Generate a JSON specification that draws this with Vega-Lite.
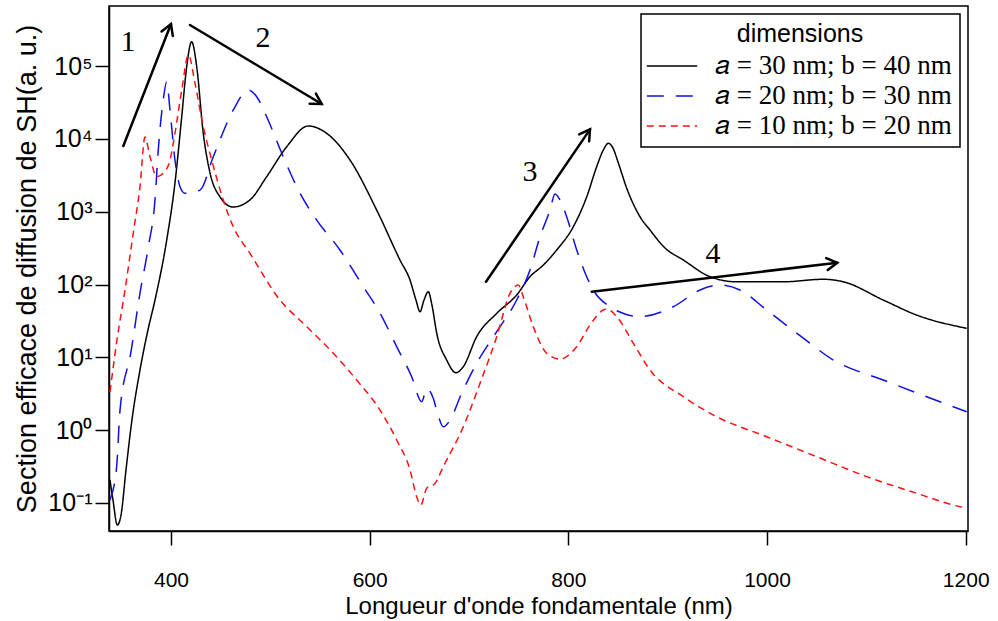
{
  "$schema": "https://vega.github.io/schema/vega-lite/v6.json",
  "width": 859,
  "height": 525,
  "autosize": {"type": "none"},
  "padding": {"left": 109, "top": 6, "right": 30, "bottom": 90},
  "background": "white",
  "datasets": {
    "curves": [
      {"s": "𝑎 = 30 nm; b = 40 nm", "wl": 338.6, "v": 0.207},
      {"s": "𝑎 = 30 nm; b = 40 nm", "wl": 341.6, "v": 0.110},
      {"s": "𝑎 = 30 nm; b = 40 nm", "wl": 346.0, "v": 0.0498},
      {"s": "𝑎 = 30 nm; b = 40 nm", "wl": 349.7, "v": 0.0684},
      {"s": "𝑎 = 30 nm; b = 40 nm", "wl": 354.7, "v": 0.284},
      {"s": "𝑎 = 30 nm; b = 40 nm", "wl": 360.7, "v": 1.38},
      {"s": "𝑎 = 30 nm; b = 40 nm", "wl": 368.8, "v": 6.70},
      {"s": "𝑎 = 30 nm; b = 40 nm", "wl": 376.8, "v": 23.7},
      {"s": "𝑎 = 30 nm; b = 40 nm", "wl": 383.9, "v": 61.2},
      {"s": "𝑎 = 30 nm; b = 40 nm", "wl": 395.7, "v": 408},
      {"s": "𝑎 = 30 nm; b = 40 nm", "wl": 404.0, "v": 2470},
      {"s": "𝑎 = 30 nm; b = 40 nm", "wl": 410.8, "v": 20100},
      {"s": "𝑎 = 30 nm; b = 40 nm", "wl": 415.8, "v": 97800},
      {"s": "𝑎 = 30 nm; b = 40 nm", "wl": 420.8, "v": 216000},
      {"s": "𝑎 = 30 nm; b = 40 nm", "wl": 425.9, "v": 97800},
      {"s": "𝑎 = 30 nm; b = 40 nm", "wl": 432.5, "v": 11900},
      {"s": "𝑎 = 30 nm; b = 40 nm", "wl": 439.3, "v": 3400},
      {"s": "𝑎 = 30 nm; b = 40 nm", "wl": 449.3, "v": 1600},
      {"s": "𝑎 = 30 nm; b = 40 nm", "wl": 462.4, "v": 1160},
      {"s": "𝑎 = 30 nm; b = 40 nm", "wl": 479.5, "v": 1450},
      {"s": "𝑎 = 30 nm; b = 40 nm", "wl": 496.3, "v": 3020},
      {"s": "𝑎 = 30 nm; b = 40 nm", "wl": 516.5, "v": 7800},
      {"s": "𝑎 = 30 nm; b = 40 nm", "wl": 538.2, "v": 15000},
      {"s": "𝑎 = 30 nm; b = 40 nm", "wl": 556.7, "v": 11900},
      {"s": "𝑎 = 30 nm; b = 40 nm", "wl": 580.2, "v": 5120},
      {"s": "𝑎 = 30 nm; b = 40 nm", "wl": 607.1, "v": 1050},
      {"s": "𝑎 = 30 nm; b = 40 nm", "wl": 630.5, "v": 217},
      {"s": "𝑎 = 30 nm; b = 40 nm", "wl": 640.6, "v": 115},
      {"s": "𝑎 = 30 nm; b = 40 nm", "wl": 646.6, "v": 61.2},
      {"s": "𝑎 = 30 nm; b = 40 nm", "wl": 650.7, "v": 42.3},
      {"s": "𝑎 = 30 nm; b = 40 nm", "wl": 654.7, "v": 61.2},
      {"s": "𝑎 = 30 nm; b = 40 nm", "wl": 659.0, "v": 79.6},
      {"s": "𝑎 = 30 nm; b = 40 nm", "wl": 662.7, "v": 52.2},
      {"s": "𝑎 = 30 nm; b = 40 nm", "wl": 667.5, "v": 21.4},
      {"s": "𝑎 = 30 nm; b = 40 nm", "wl": 677.5, "v": 9.18},
      {"s": "𝑎 = 30 nm; b = 40 nm", "wl": 686.9, "v": 6.15},
      {"s": "𝑎 = 30 nm; b = 40 nm", "wl": 694.2, "v": 7.43},
      {"s": "𝑎 = 30 nm; b = 40 nm", "wl": 707.7, "v": 19.2},
      {"s": "𝑎 = 30 nm; b = 40 nm", "wl": 727.9, "v": 40.2},
      {"s": "𝑎 = 30 nm; b = 40 nm", "wl": 748.0, "v": 71.8},
      {"s": "𝑎 = 30 nm; b = 40 nm", "wl": 761.4, "v": 128},
      {"s": "𝑎 = 30 nm; b = 40 nm", "wl": 774.8, "v": 185},
      {"s": "𝑎 = 30 nm; b = 40 nm", "wl": 788.3, "v": 298},
      {"s": "𝑎 = 30 nm; b = 40 nm", "wl": 805.0, "v": 621},
      {"s": "𝑎 = 30 nm; b = 40 nm", "wl": 818.5, "v": 1600},
      {"s": "𝑎 = 30 nm; b = 40 nm", "wl": 828.5, "v": 4140},
      {"s": "𝑎 = 30 nm; b = 40 nm", "wl": 835.2, "v": 7030},
      {"s": "𝑎 = 30 nm; b = 40 nm", "wl": 840.2, "v": 8690},
      {"s": "𝑎 = 30 nm; b = 40 nm", "wl": 844.9, "v": 7480},
      {"s": "𝑎 = 30 nm; b = 40 nm", "wl": 850.0, "v": 4810},
      {"s": "𝑎 = 30 nm; b = 40 nm", "wl": 858.7, "v": 2110},
      {"s": "𝑎 = 30 nm; b = 40 nm", "wl": 872.1, "v": 853},
      {"s": "𝑎 = 30 nm; b = 40 nm", "wl": 882.2, "v": 560},
      {"s": "𝑎 = 30 nm; b = 40 nm", "wl": 897.3, "v": 317},
      {"s": "𝑎 = 30 nm; b = 40 nm", "wl": 915.7, "v": 217},
      {"s": "𝑎 = 30 nm; b = 40 nm", "wl": 942.6, "v": 128},
      {"s": "𝑎 = 30 nm; b = 40 nm", "wl": 969.5, "v": 109},
      {"s": "𝑎 = 30 nm; b = 40 nm", "wl": 1016.4, "v": 109},
      {"s": "𝑎 = 30 nm; b = 40 nm", "wl": 1056.6, "v": 118},
      {"s": "𝑎 = 30 nm; b = 40 nm", "wl": 1076.8, "v": 109},
      {"s": "𝑎 = 30 nm; b = 40 nm", "wl": 1117.0, "v": 61.2},
      {"s": "𝑎 = 30 nm; b = 40 nm", "wl": 1150.6, "v": 38.1},
      {"s": "𝑎 = 30 nm; b = 40 nm", "wl": 1201.0, "v": 25.0},

      {"s": "𝑎 = 20 nm; b = 30 nm", "wl": 338.6, "v": 0.110},
      {"s": "𝑎 = 20 nm; b = 30 nm", "wl": 345.3, "v": 0.315},
      {"s": "𝑎 = 20 nm; b = 30 nm", "wl": 348.7, "v": 1.89},
      {"s": "𝑎 = 20 nm; b = 30 nm", "wl": 359.7, "v": 11.8},
      {"s": "𝑎 = 20 nm; b = 30 nm", "wl": 368.8, "v": 76.4},
      {"s": "𝑎 = 20 nm; b = 30 nm", "wl": 377.2, "v": 330},
      {"s": "𝑎 = 20 nm; b = 30 nm", "wl": 383.9, "v": 1450},
      {"s": "𝑎 = 20 nm; b = 30 nm", "wl": 387.2, "v": 7030},
      {"s": "𝑎 = 20 nm; b = 30 nm", "wl": 392.2, "v": 34100},
      {"s": "𝑎 = 20 nm; b = 30 nm", "wl": 395.7, "v": 60800},
      {"s": "𝑎 = 20 nm; b = 30 nm", "wl": 399.0, "v": 24900},
      {"s": "𝑎 = 20 nm; b = 30 nm", "wl": 404.0, "v": 5120},
      {"s": "𝑎 = 20 nm; b = 30 nm", "wl": 409.1, "v": 2200},
      {"s": "𝑎 = 20 nm; b = 30 nm", "wl": 414.1, "v": 1790},
      {"s": "𝑎 = 20 nm; b = 30 nm", "wl": 429.2, "v": 1980},
      {"s": "𝑎 = 20 nm; b = 30 nm", "wl": 442.6, "v": 5690},
      {"s": "𝑎 = 20 nm; b = 30 nm", "wl": 462.7, "v": 24900},
      {"s": "𝑎 = 20 nm; b = 30 nm", "wl": 477.8, "v": 46800},
      {"s": "𝑎 = 20 nm; b = 30 nm", "wl": 486.3, "v": 37900},
      {"s": "𝑎 = 20 nm; b = 30 nm", "wl": 496.3, "v": 20100},
      {"s": "𝑎 = 20 nm; b = 30 nm", "wl": 513.0, "v": 5690},
      {"s": "𝑎 = 20 nm; b = 30 nm", "wl": 529.9, "v": 1790},
      {"s": "𝑎 = 20 nm; b = 30 nm", "wl": 546.7, "v": 767},
      {"s": "𝑎 = 20 nm; b = 30 nm", "wl": 570.1, "v": 298},
      {"s": "𝑎 = 20 nm; b = 30 nm", "wl": 593.6, "v": 93.3},
      {"s": "𝑎 = 20 nm; b = 30 nm", "wl": 610.4, "v": 40.6},
      {"s": "𝑎 = 20 nm; b = 30 nm", "wl": 627.2, "v": 14.0},
      {"s": "𝑎 = 20 nm; b = 30 nm", "wl": 642.3, "v": 5.42},
      {"s": "𝑎 = 20 nm; b = 30 nm", "wl": 652.4, "v": 2.46},
      {"s": "𝑎 = 20 nm; b = 30 nm", "wl": 657.4, "v": 3.75},
      {"s": "𝑎 = 20 nm; b = 30 nm", "wl": 664.0, "v": 2.74},
      {"s": "𝑎 = 20 nm; b = 30 nm", "wl": 668.8, "v": 1.61},
      {"s": "𝑎 = 20 nm; b = 30 nm", "wl": 674.1, "v": 1.11},
      {"s": "𝑎 = 20 nm; b = 30 nm", "wl": 680.9, "v": 1.38},
      {"s": "𝑎 = 20 nm; b = 30 nm", "wl": 692.6, "v": 3.21},
      {"s": "𝑎 = 20 nm; b = 30 nm", "wl": 707.7, "v": 8.28},
      {"s": "𝑎 = 20 nm; b = 30 nm", "wl": 727.9, "v": 22.5},
      {"s": "𝑎 = 20 nm; b = 30 nm", "wl": 748.0, "v": 61.2},
      {"s": "𝑎 = 20 nm; b = 30 nm", "wl": 761.4, "v": 158},
      {"s": "𝑎 = 20 nm; b = 30 nm", "wl": 771.5, "v": 453},
      {"s": "𝑎 = 20 nm; b = 30 nm", "wl": 781.5, "v": 1050},
      {"s": "𝑎 = 20 nm; b = 30 nm", "wl": 786.6, "v": 1750},
      {"s": "𝑎 = 20 nm; b = 30 nm", "wl": 791.6, "v": 1450},
      {"s": "𝑎 = 20 nm; b = 30 nm", "wl": 798.3, "v": 853},
      {"s": "𝑎 = 20 nm; b = 30 nm", "wl": 808.4, "v": 298},
      {"s": "𝑎 = 20 nm; b = 30 nm", "wl": 818.5, "v": 128},
      {"s": "𝑎 = 20 nm; b = 30 nm", "wl": 825.1, "v": 84.0},
      {"s": "𝑎 = 20 nm; b = 30 nm", "wl": 841.9, "v": 49.5},
      {"s": "𝑎 = 20 nm; b = 30 nm", "wl": 857.0, "v": 39.4},
      {"s": "𝑎 = 20 nm; b = 30 nm", "wl": 872.1, "v": 36.2},
      {"s": "𝑎 = 20 nm; b = 30 nm", "wl": 905.6, "v": 49.5},
      {"s": "𝑎 = 20 nm; b = 30 nm", "wl": 932.5, "v": 84.0},
      {"s": "𝑎 = 20 nm; b = 30 nm", "wl": 952.6, "v": 98.4},
      {"s": "𝑎 = 20 nm; b = 30 nm", "wl": 972.8, "v": 84.0},
      {"s": "𝑎 = 20 nm; b = 30 nm", "wl": 999.6, "v": 44.7},
      {"s": "𝑎 = 20 nm; b = 30 nm", "wl": 1034.5, "v": 19.2},
      {"s": "𝑎 = 20 nm; b = 30 nm", "wl": 1066.7, "v": 9.18},
      {"s": "𝑎 = 20 nm; b = 30 nm", "wl": 1117.0, "v": 4.88},
      {"s": "𝑎 = 20 nm; b = 30 nm", "wl": 1160.7, "v": 2.88},
      {"s": "𝑎 = 20 nm; b = 30 nm", "wl": 1201.0, "v": 1.79},

      {"s": "𝑎 = 10 nm; b = 20 nm", "wl": 338.6, "v": 3.34},
      {"s": "𝑎 = 10 nm; b = 20 nm", "wl": 345.6, "v": 17.3},
      {"s": "𝑎 = 10 nm; b = 20 nm", "wl": 353.7, "v": 84.0},
      {"s": "𝑎 = 10 nm; b = 20 nm", "wl": 362.0, "v": 505},
      {"s": "𝑎 = 10 nm; b = 20 nm", "wl": 368.8, "v": 2200},
      {"s": "𝑎 = 10 nm; b = 20 nm", "wl": 373.8, "v": 10600},
      {"s": "𝑎 = 10 nm; b = 20 nm", "wl": 378.9, "v": 5690},
      {"s": "𝑎 = 10 nm; b = 20 nm", "wl": 385.6, "v": 3020},
      {"s": "𝑎 = 10 nm; b = 20 nm", "wl": 392.2, "v": 3370},
      {"s": "𝑎 = 10 nm; b = 20 nm", "wl": 399.0, "v": 5120},
      {"s": "𝑎 = 10 nm; b = 20 nm", "wl": 404.0, "v": 11900},
      {"s": "𝑎 = 10 nm; b = 20 nm", "wl": 410.8, "v": 46800},
      {"s": "𝑎 = 10 nm; b = 20 nm", "wl": 417.6, "v": 142000},
      {"s": "𝑎 = 10 nm; b = 20 nm", "wl": 424.2, "v": 57800},
      {"s": "𝑎 = 10 nm; b = 20 nm", "wl": 432.5, "v": 14700},
      {"s": "𝑎 = 10 nm; b = 20 nm", "wl": 441.0, "v": 5120},
      {"s": "𝑎 = 10 nm; b = 20 nm", "wl": 452.6, "v": 1450},
      {"s": "𝑎 = 10 nm; b = 20 nm", "wl": 462.7, "v": 621},
      {"s": "𝑎 = 10 nm; b = 20 nm", "wl": 479.5, "v": 268},
      {"s": "𝑎 = 10 nm; b = 20 nm", "wl": 509.7, "v": 61.2},
      {"s": "𝑎 = 10 nm; b = 20 nm", "wl": 534.9, "v": 27.8},
      {"s": "𝑎 = 10 nm; b = 20 nm", "wl": 563.4, "v": 11.4},
      {"s": "𝑎 = 10 nm; b = 20 nm", "wl": 586.9, "v": 4.88},
      {"s": "𝑎 = 10 nm; b = 20 nm", "wl": 610.4, "v": 1.89},
      {"s": "𝑎 = 10 nm; b = 20 nm", "wl": 627.2, "v": 0.733},
      {"s": "𝑎 = 10 nm; b = 20 nm", "wl": 640.6, "v": 0.284},
      {"s": "𝑎 = 10 nm; b = 20 nm", "wl": 647.3, "v": 0.122},
      {"s": "𝑎 = 10 nm; b = 20 nm", "wl": 651.4, "v": 0.0938},
      {"s": "𝑎 = 10 nm; b = 20 nm", "wl": 657.4, "v": 0.159},
      {"s": "𝑎 = 10 nm; b = 20 nm", "wl": 665.8, "v": 0.186},
      {"s": "𝑎 = 10 nm; b = 20 nm", "wl": 674.1, "v": 0.315},
      {"s": "𝑎 = 10 nm; b = 20 nm", "wl": 694.2, "v": 1.11},
      {"s": "𝑎 = 10 nm; b = 20 nm", "wl": 711.1, "v": 4.40},
      {"s": "𝑎 = 10 nm; b = 20 nm", "wl": 727.9, "v": 19.2},
      {"s": "𝑎 = 10 nm; b = 20 nm", "wl": 741.3, "v": 75.7},
      {"s": "𝑎 = 10 nm; b = 20 nm", "wl": 749.6, "v": 98.4},
      {"s": "𝑎 = 10 nm; b = 20 nm", "wl": 754.6, "v": 67.9},
      {"s": "𝑎 = 10 nm; b = 20 nm", "wl": 764.7, "v": 26.3},
      {"s": "𝑎 = 10 nm; b = 20 nm", "wl": 778.2, "v": 11.4},
      {"s": "𝑎 = 10 nm; b = 20 nm", "wl": 791.6, "v": 9.48},
      {"s": "𝑎 = 10 nm; b = 20 nm", "wl": 808.4, "v": 14.0},
      {"s": "𝑎 = 10 nm; b = 20 nm", "wl": 821.8, "v": 27.8},
      {"s": "𝑎 = 10 nm; b = 20 nm", "wl": 835.2, "v": 44.7},
      {"s": "𝑎 = 10 nm; b = 20 nm", "wl": 838.9, "v": 46.0},
      {"s": "𝑎 = 10 nm; b = 20 nm", "wl": 848.7, "v": 36.2},
      {"s": "𝑎 = 10 nm; b = 20 nm", "wl": 865.4, "v": 15.6},
      {"s": "𝑎 = 10 nm; b = 20 nm", "wl": 882.2, "v": 6.70},
      {"s": "𝑎 = 10 nm; b = 20 nm", "wl": 915.7, "v": 2.88},
      {"s": "𝑎 = 10 nm; b = 20 nm", "wl": 949.3, "v": 1.53},
      {"s": "𝑎 = 10 nm; b = 20 nm", "wl": 999.6, "v": 0.813},
      {"s": "𝑎 = 10 nm; b = 20 nm", "wl": 1050.0, "v": 0.432},
      {"s": "𝑎 = 10 nm; b = 20 nm", "wl": 1100.3, "v": 0.230},
      {"s": "𝑎 = 10 nm; b = 20 nm", "wl": 1150.6, "v": 0.136},
      {"s": "𝑎 = 10 nm; b = 20 nm", "wl": 1194.2, "v": 0.0889},
      {"s": "𝑎 = 10 nm; b = 20 nm", "wl": 1201.0, "v": 0.0853}
    ],
    "arrows": [
      {"id": "1s", "o": 0, "wl": 352.0, "v": 7980},
      {"id": "1s", "o": 1, "wl": 400.0, "v": 378000},
      {"id": "1h", "o": 0, "wl": 390.5, "v": 298000},
      {"id": "1h", "o": 1, "wl": 400.0, "v": 378000},
      {"id": "1h", "o": 2, "wl": 401.8, "v": 259000},
      {"id": "2s", "o": 0, "wl": 419.1, "v": 366000},
      {"id": "2s", "o": 1, "wl": 551.7, "v": 30100},
      {"id": "2h", "o": 0, "wl": 545.9, "v": 41900},
      {"id": "2h", "o": 1, "wl": 551.7, "v": 30100},
      {"id": "2h", "o": 2, "wl": 539.6, "v": 30300},
      {"id": "3s", "o": 0, "wl": 717.1, "v": 109},
      {"id": "3s", "o": 1, "wl": 821.8, "v": 13500},
      {"id": "3h", "o": 0, "wl": 810.9, "v": 11500},
      {"id": "3h", "o": 1, "wl": 821.8, "v": 13500},
      {"id": "3h", "o": 2, "wl": 820.9, "v": 9250},
      {"id": "4s", "o": 0, "wl": 823.5, "v": 79.6},
      {"id": "4s", "o": 1, "wl": 1070.7, "v": 199},
      {"id": "4h", "o": 0, "wl": 1059.6, "v": 231},
      {"id": "4h", "o": 1, "wl": 1070.7, "v": 199},
      {"id": "4h", "o": 2, "wl": 1061.1, "v": 158}
    ],
    "labels": [
      {"t": "1", "wl": 356.7, "v": 214000},
      {"t": "2", "wl": 492.6, "v": 242000},
      {"t": "3", "wl": 761.4, "v": 3510},
      {"t": "4", "wl": 945.6, "v": 262}
    ]
  },
  "layer": [
    {
      "data": {"name": "curves"},
      "mark": {"type": "line", "interpolate": "monotone", "strokeWidth": 1.5, "clip": true},
      "encoding": {
        "x": {"field": "wl", "type": "quantitative", "scale": {"domain": [337.6, 1202.3], "nice": false, "zero": false},
              "axis": {"values": [400, 600, 800, 1000, 1200], "format": "d", "title": "Longueur d'onde fondamentale (nm)", "labelFontSize": 21, "titleFontSize": 24, "labelPadding": 24, "titlePadding": 4, "labelFlush": false}},
        "y": {"field": "v", "type": "quantitative", "scale": {"type": "log", "domain": [0.04125, 667000], "nice": false},
              "axis": {"values": [0.1, 1, 10, 100, 1000, 10000, 100000], "title": "Section efficace de diffusion de SH(a. u.)", "labelFontSize": 25, "titleFontSize": 27, "labelPadding": 3, "titlePadding": 6,
                       "labelExpr": "datum.value < 0.5 ? '10⁻¹' : datum.value < 5 ? '10⁰' : datum.value < 50 ? '10¹' : datum.value < 500 ? '10²' : datum.value < 5000 ? '10³' : datum.value < 50000 ? '10⁴' : '10⁵'"}},
        "color": {"field": "s", "type": "nominal",
                  "scale": {"domain": ["𝑎 = 30 nm; b = 40 nm", "𝑎 = 20 nm; b = 30 nm", "𝑎 = 10 nm; b = 20 nm"], "range": ["#000000", "#1010E0", "#FF1010"]},
                  "legend": {"title": "dimensions"}},
        "strokeDash": {"field": "s", "type": "nominal",
                       "scale": {"domain": ["𝑎 = 30 nm; b = 40 nm", "𝑎 = 20 nm; b = 30 nm", "𝑎 = 10 nm; b = 20 nm"], "range": [[1, 0], [17, 12], [7, 5]]},
                       "legend": {"title": "dimensions"}}
      }
    },
    {
      "data": {"name": "arrows"},
      "mark": {"type": "line", "color": "black", "strokeWidth": 2.5, "strokeCap": "round", "strokeJoin": "miter"},
      "encoding": {
        "x": {"field": "wl", "type": "quantitative"},
        "y": {"field": "v", "type": "quantitative"},
        "detail": {"field": "id"},
        "order": {"field": "o"}
      }
    },
    {
      "data": {"name": "labels"},
      "mark": {"type": "text", "font": "Liberation Serif", "fontSize": 30, "color": "black", "baseline": "middle", "align": "center"},
      "encoding": {
        "x": {"field": "wl", "type": "quantitative"},
        "y": {"field": "v", "type": "quantitative"},
        "text": {"field": "t"}
      }
    }
  ],
  "config": {
    "view": {"stroke": "black", "strokeWidth": 1.5},
    "axis": {"labelFont": "Liberation Sans", "titleFont": "Liberation Sans", "labelColor": "black", "titleColor": "black", "titleFontWeight": "normal", "domainColor": "black", "tickColor": "black", "grid": false, "domainWidth": 1.5, "tickWidth": 1.5, "tickSize": 14},
    "legend": {
      "orient": "top-right", "offset": 8,
      "strokeColor": "black", "strokeWidth": 1.5, "fillColor": "white", "padding": 8, "cornerRadius": 0,
      "titleFont": "Liberation Sans", "titleFontSize": 25, "titleFontWeight": "normal", "titleColor": "black", "titleAnchor": "middle", "titlePadding": 4,
      "labelFont": "Liberation Serif", "labelFontSize": 27, "labelColor": "black", "labelLimit": 400, "labelOffset": 28,
      "symbolType": "M-1.8,0H1.8", "symbolSize": 784, "symbolOffset": 8, "symbolStrokeWidth": 1.5, "rowPadding": 2
    }
  }
}
